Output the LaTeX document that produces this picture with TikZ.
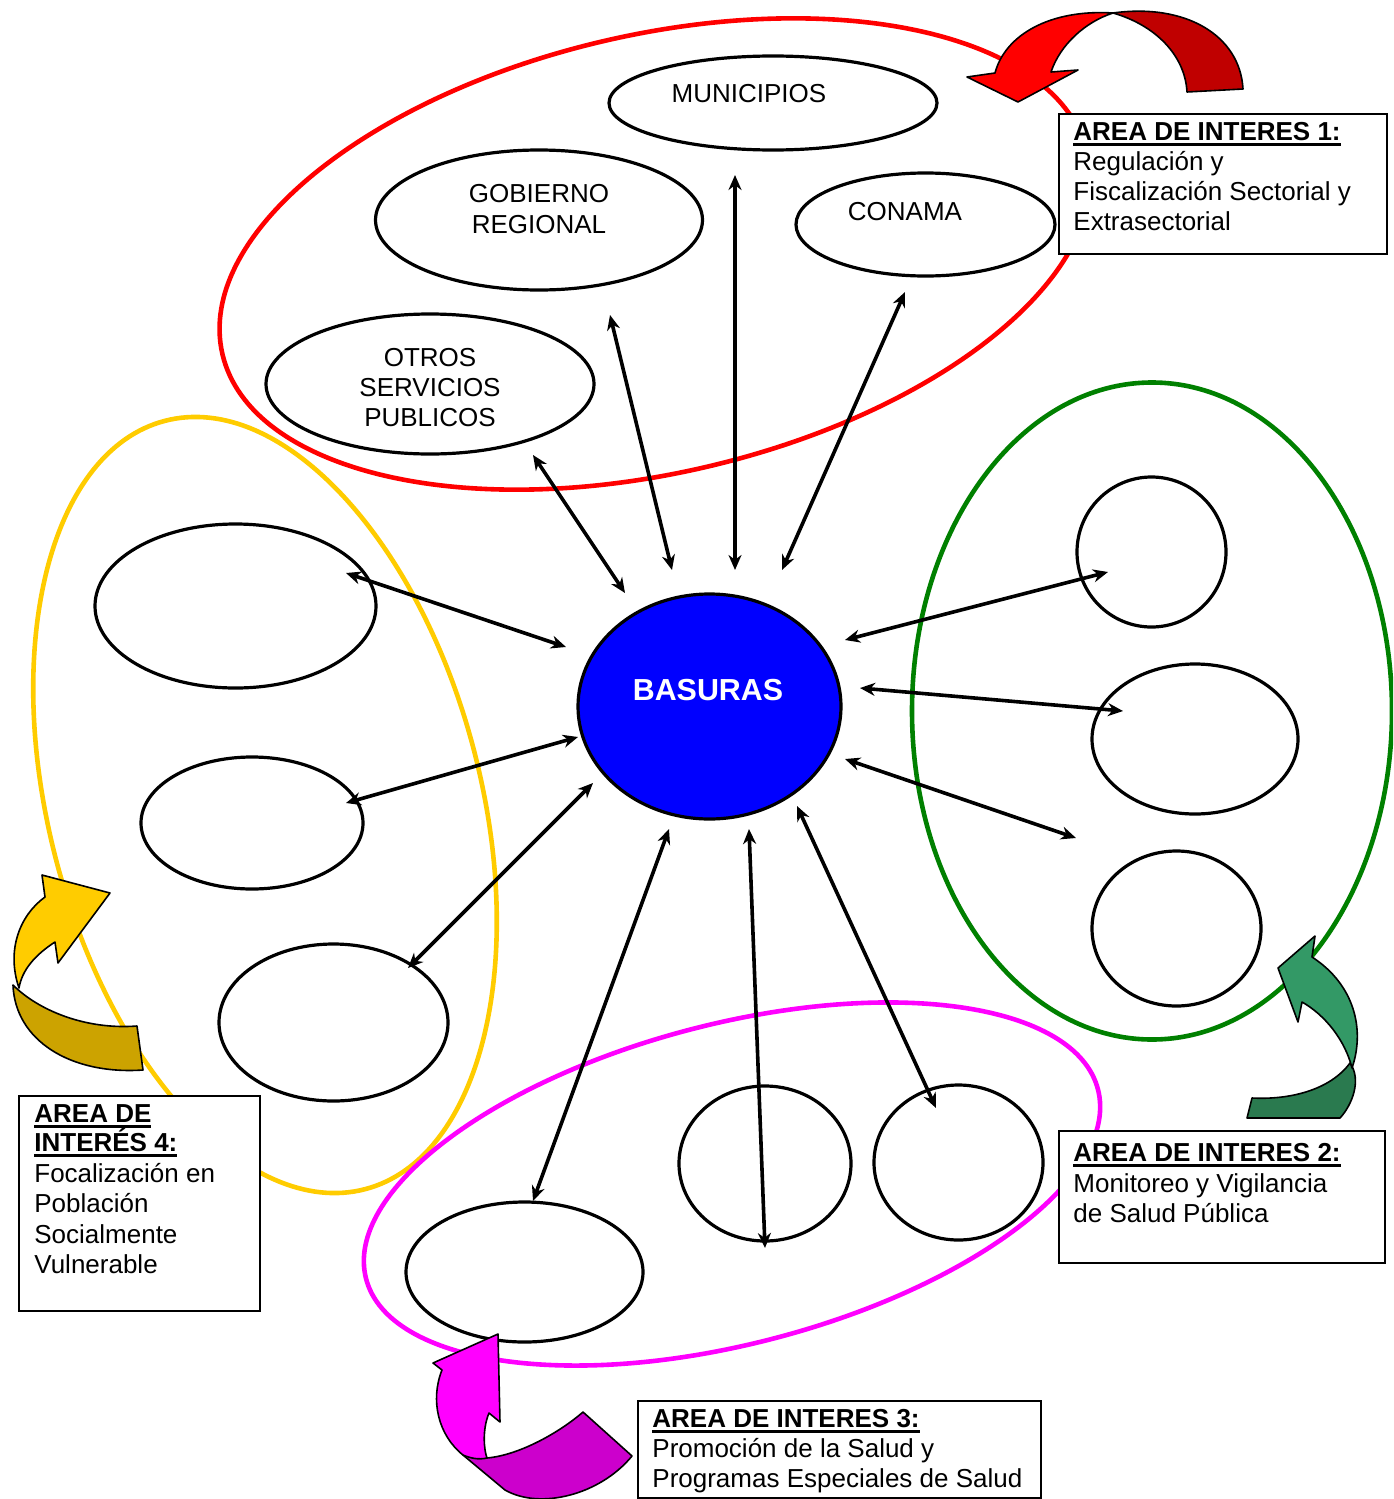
\documentclass[tikz,border=0pt]{standalone}
\usepackage{fontspec}
\setmainfont{Liberation Sans}
\usetikzlibrary{shapes.geometric,arrows.meta}
\definecolor{redA}{HTML}{FF0000}
\definecolor{redD}{HTML}{C00000}
\definecolor{yelA}{HTML}{FFCC00}
\definecolor{yelD}{HTML}{CCA300}
\definecolor{grnL}{HTML}{008000}
\definecolor{grnA}{HTML}{339966}
\definecolor{grnD}{HTML}{2A7A4F}
\definecolor{magA}{HTML}{FF00FF}
\definecolor{magD}{HTML}{CC00CC}
\definecolor{basblue}{HTML}{0000FF}
\newcommand\myul[1]{\setbox0=\hbox{#1}\rlap{\vrule width\wd0 height -1.3pt depth 2.9pt}\box0}
\begin{document}
\begin{tikzpicture}[x=0.5pt,y=-0.5pt,
  area/.style={draw, ellipse, line width=2.3pt, inner sep=0pt},
  ell/.style={draw, ellipse, line width=1.6pt, fill=white, inner sep=0pt},
  lbl/.style={font=\fontsize{13}{15}\selectfont, anchor=base, inner sep=0pt},
  lblw/.style={lbl, anchor=base west},
  box/.style={draw, line width=1.1pt, fill=white, anchor=north west, inner sep=0pt},
  link/.style={{Stealth[length=7.5pt,width=6.5pt,inset=2.4pt]}-{Stealth[length=7.5pt,width=6.5pt,inset=2.4pt]}, line width=1.8pt},
  band/.style={draw=black, line width=0.8pt, line join=round}]
\useasboundingbox (0,0) rectangle (1393,1499);
\clip (0,0) rectangle (1393,1499);
\fill[white] (0,0) rectangle (1393,1499);

% area ellipses
\node[area, draw=redA, minimum width=444pt, minimum height=219pt, rotate=13] (a1) at (655,254) {};
\node[area, draw=yelA, minimum width=216pt, minimum height=397pt, rotate=14.6] (a4) at (265,805) {};
\node[area, draw=grnL, minimum width=240pt, minimum height=328.5pt] (a2) at (1152,711) {};
\node[area, draw=magA, minimum width=378pt, minimum height=160pt, rotate=14.5] (a3) at (732,1184) {};

% entity ellipses
\node[ell, minimum width=164pt, minimum height=47pt] (mun) at (773,103) {};
\node[ell, minimum width=163.5pt, minimum height=70pt] (gob) at (539,220) {};
\node[ell, minimum width=129.5pt, minimum height=51.5pt] (con) at (925.5,224.5) {};
\node[ell, minimum width=164pt, minimum height=70pt] (otr) at (430,384) {};
\node[ell, fill=basblue, minimum width=131.5pt, minimum height=112.5pt] (bas) at (709.5,706.5) {};
\node[ell, minimum width=140.5pt, minimum height=82pt] (l1) at (235.5,606) {};
\node[ell, minimum width=111pt, minimum height=66pt] (l2) at (252,823) {};
\node[ell, minimum width=114.5pt, minimum height=78.5pt] (l3) at (333.5,1022.5) {};
\node[ell, minimum width=74.5pt, minimum height=75pt] (r1) at (1151.5,552) {};
\node[ell, minimum width=103pt, minimum height=75pt] (r2) at (1195,739) {};
\node[ell, minimum width=84.5pt, minimum height=77.5pt] (r3) at (1176.5,928.5) {};
\node[ell, minimum width=118.5pt, minimum height=70pt] (b1) at (524.5,1272) {};
\node[ell, minimum width=86pt, minimum height=77.5pt] (b2) at (765,1163.5) {};
\node[ell, minimum width=84.5pt, minimum height=77.5pt] (b3) at (958.5,1162.5) {};

% labels
\node[lbl] (tmun) at (749,102) {MUNICIPIOS};
\node[lbl] (tgob1) at (539,202) {GOBIERNO};
\node[lbl] (tgob2) at (539,233) {REGIONAL};
\node[lbl] (tcon) at (905,220) {CONAMA};
\node[lbl] (tot1) at (430,366) {OTROS};
\node[lbl] (tot2) at (430,396) {SERVICIOS};
\node[lbl] (tot3) at (430,426) {PUBLICOS};
\node[lbl, font=\fontsize{15.2}{17}\selectfont\bfseries, text=white] (tbas) at (708,700) {BASURAS};

% connector end points
\coordinate (e1a) at (533,455);  \coordinate (e1b) at (625,593);
\coordinate (e2a) at (610,315);  \coordinate (e2b) at (672,570);
\coordinate (e3a) at (735,175);  \coordinate (e3b) at (735,570);
\coordinate (e4a) at (905,292);  \coordinate (e4b) at (782,570);
\coordinate (e5a) at (346,573);  \coordinate (e5b) at (566,647);
\coordinate (e6a) at (346,803);  \coordinate (e6b) at (578,737);
\coordinate (e7a) at (408,968);  \coordinate (e7b) at (593,783);
\coordinate (e8a) at (533,1201); \coordinate (e8b) at (669,829);
\coordinate (e9a) at (765,1248); \coordinate (e9b) at (749,829);
\coordinate (e10a) at (936,1108); \coordinate (e10b) at (797,806);
\coordinate (e11a) at (1108,572); \coordinate (e11b) at (845,640);
\coordinate (e12a) at (1123,711); \coordinate (e12b) at (860,688);
\coordinate (e13a) at (1076,838); \coordinate (e13b) at (845,759);
\foreach \i in {1,...,13} \draw[link] (e\i a) -- (e\i b);

% text boxes
\node[box, minimum width=164pt, minimum height=70pt] (box1) at (1058,113) {};
\node[box, minimum width=163pt, minimum height=66pt] (box2) at (1058,1130) {};
\node[box, minimum width=201.5pt, minimum height=48.5pt] (box3) at (637,1400) {};
\node[box, minimum width=120.5pt, minimum height=107.5pt] (box4) at (18,1095) {};

\node[lblw] (k1a) at (1073,140) {\myul{\bfseries AREA DE INTERES 1:}};
\node[lblw] (k1b) at (1073,170) {Regulación y};
\node[lblw] (k1c) at (1073,200) {Fiscalización Sectorial y};
\node[lblw] (k1d) at (1073,230) {Extrasectorial};

\node[lblw] (k2a) at (1073,1161) {\myul{\bfseries AREA DE INTERES 2:}};
\node[lblw] (k2b) at (1073,1192) {Monitoreo y Vigilancia};
\node[lblw] (k2c) at (1073,1222) {de Salud Pública};

\node[lblw] (k3a) at (652,1427) {\myul{\bfseries AREA DE INTERES 3:}};
\node[lblw] (k3b) at (652,1457) {Promoción de la Salud y};
\node[lblw] (k3c) at (652,1487) {Programas Especiales de Salud};

\node[lblw] (k4a) at (34,1122) {\myul{\bfseries AREA DE}};
\node[lblw] (k4b) at (34,1151) {\myul{\bfseries INTERÉS 4:}};
\node[lblw] (k4c) at (34,1182) {Focalización en};
\node[lblw] (k4d) at (34,1212) {Población};
\node[lblw] (k4e) at (34,1243) {Socialmente};
\node[lblw] (k4f) at (34,1273) {Vulnerable};

% curved block arrows
% red
\filldraw[band, fill=redD] (1187,92) -- (1243,89) .. controls (1240,35) and (1185,3) .. (1113,13)
  .. controls (1155,25) and (1185,55) .. (1187,92) -- cycle;
\filldraw[band, fill=redA] (1113,13) .. controls (1050,9) and (1005,35) .. (995,73) -- (967,77) -- (1018,102)
  -- (1078,70) -- (1051,72) .. controls (1060,45) and (1085,22) .. (1113,13) -- cycle;
% yellow
\filldraw[band, fill=yelD] (137,1026) -- (143,1070) .. controls (70,1075) and (15,1040) .. (13,985)
  .. controls (38,1010) and (85,1030) .. (137,1026) -- cycle;
\filldraw[band, fill=yelA] (19,988) .. controls (6,950) and (20,915) .. (45,897) -- (42,875) -- (110,893)
  -- (58,963) -- (55,942) .. controls (35,955) and (22,970) .. (19,988) -- cycle;
% green
\filldraw[band, fill=grnD] (1350,1063) .. controls (1362,1080) and (1352,1105) .. (1340,1118) -- (1247,1118)
  -- (1252,1098) .. controls (1290,1100) and (1330,1090) .. (1350,1063) -- cycle;
\filldraw[band, fill=grnA] (1352,1068) .. controls (1365,1030) and (1355,985) .. (1312,957) -- (1315,936)
  -- (1278,968) -- (1298,1022) -- (1302,1002) .. controls (1325,1015) and (1345,1040) .. (1352,1068) -- cycle;
% magenta
\filldraw[band, fill=magD] (463,1455) -- (505,1490) .. controls (540,1510) and (600,1495) .. (632,1456)
  -- (583,1412) .. controls (560,1432) and (520,1455) .. (487,1458) -- cycle;
\filldraw[band, fill=magA] (498,1334) -- (500,1422) -- (489,1413) .. controls (482,1430) and (484,1450) .. (487,1458)
  .. controls (478,1460) and (470,1458) .. (463,1455) .. controls (438,1435) and (430,1400) .. (442,1370)
  -- (433,1363) -- cycle;
\end{tikzpicture}
\end{document}
